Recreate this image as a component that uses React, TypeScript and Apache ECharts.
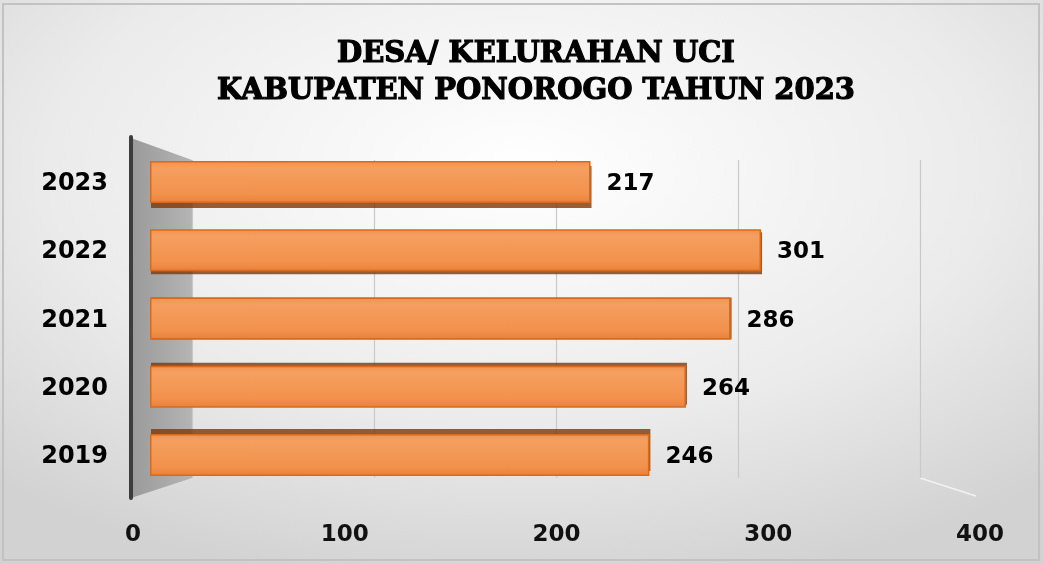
import React, { useEffect, useRef } from "react";
import * as echarts from "echarts";

const years = ["2019", "2020", "2021", "2022", "2023"];
const values = [246, 264, 286, 301, 217];
const depthShift = [-5, -3, 0, 3, 5];
const xTicks = [0, 100, 200, 300, 400];
const titleLines = ["DESA/ KELURAHAN UCI", "KABUPATEN PONOROGO TAHUN 2023"];

export default function App() {
  const ref = useRef<HTMLDivElement>(null);
  useEffect(() => {
    const chart = echarts.init(ref.current!, null, { renderer: "svg" });
    const barData = values.map((v, i) => ({
      value: v,
      itemStyle: {
        shadowColor: "rgba(120,55,15,0.8)",
        shadowBlur: 0,
        shadowOffsetY: depthShift[i],
        shadowOffsetX: 1,
      },
    }));
    chart.setOption({
      animation: false,
      title: {
        text: titleLines.join("\n"),
        left: 531,
        textAlign: "center",
        top: 28,
        textStyle: {
          fontFamily: "DejaVu Serif",
          fontWeight: "bold",
          fontSize: 29,
          lineHeight: 37,
          color: "#000",
          textBorderColor: "#000",
          textBorderWidth: 1.2,
        },
      },
      graphic: [
        {
          type: "rect",
          z: -10,
          silent: true,
          shape: { x: 0, y: 0, width: 1043, height: 564 },
          style: {
            fill: new echarts.graphic.RadialGradient(0.5, 0.3, 0.75, [
              { offset: 0, color: "#ffffff" },
              { offset: 0.6, color: "#ebebeb" },
              { offset: 1, color: "#d2d2d2" },
            ]),
          },
        },
        {
          type: "rect",
          z: -9,
          silent: true,
          shape: { x: 3, y: 4, width: 1036, height: 556 },
          style: { fill: "none", stroke: "#c2c2c2", lineWidth: 2 },
        },
        {
          type: "polygon",
          z: -5,
          silent: true,
          shape: { points: [[131, 138], [192, 160], [192, 478], [131, 498]] },
          style: {
            fill: new echarts.graphic.LinearGradient(0, 0, 1, 0, [
              { offset: 0, color: "#9a9a9a" },
              { offset: 1, color: "#b4b4b4" },
            ]),
          },
        },
        {
          type: "line",
          z: -4,
          silent: true,
          shape: { x1: 131, y1: 137, x2: 131, y2: 498 },
          style: { stroke: "#3d3d3d", lineWidth: 4, lineCap: "round" },
        },
        {
          type: "line",
          z: -4,
          silent: true,
          shape: { x1: 920, y1: 478, x2: 976, y2: 496 },
          style: { stroke: "#f2f2f2", lineWidth: 1.5 },
        },
      ],
      grid: [
        { left: 150, right: 81, top: 148, bottom: 75 },
        { left: 133, right: 63, top: 148, bottom: 75 },
        { left: 192, right: 123, top: 160, bottom: 86 },
      ],
      xAxis: [
        {
          gridIndex: 0,
          type: "value",
          min: 0,
          max: 400,
          interval: 100,
          axisLabel: { show: false },
          axisLine: { show: false },
          axisTick: { show: false },
          splitLine: { show: false },
        },
        {
          gridIndex: 1,
          type: "value",
          min: xTicks[0],
          max: xTicks[xTicks.length - 1],
          interval: 100,
          axisLabel: {
            show: true,
            margin: 32,
            fontFamily: "DejaVu Sans",
            fontWeight: "bold",
            fontSize: 23,
            color: "#111",
          },
          axisLine: { show: false },
          axisTick: { show: false },
          splitLine: { show: false },
        },
        {
          gridIndex: 2,
          type: "value",
          min: 0,
          max: 400,
          interval: 100,
          axisLabel: { show: false },
          axisLine: { show: false },
          axisTick: { show: false },
          splitLine: { show: true, lineStyle: { color: "#c9c9c9", width: 1.2 } },
        },
      ],
      yAxis: [
        {
          gridIndex: 0,
          type: "category",
          data: years,
          axisLabel: {
            margin: 42,
            fontFamily: "DejaVu Sans",
            fontWeight: "bold",
            fontSize: 24,
            color: "#000",
          },
          axisLine: { show: false },
          axisTick: { show: false },
        },
        { gridIndex: 1, type: "category", data: years, show: false },
        { gridIndex: 2, type: "category", data: years, show: false },
      ],
      series: [
        {
          type: "bar",
          xAxisIndex: 0,
          yAxisIndex: 0,
          data: barData,
          barWidth: 42,
          itemStyle: {
            color: new echarts.graphic.LinearGradient(0, 0, 0, 1, [
              { offset: 0, color: "#f09352" },
              { offset: 0.15, color: "#f59f60" },
              { offset: 0.8, color: "#f2914c" },
              { offset: 1, color: "#e7823c" },
            ]),
            borderColor: "#d86a1f",
            borderWidth: 1.5,
          },
          label: {
            show: true,
            position: "right",
            distance: 16,
            fontFamily: "DejaVu Sans",
            fontWeight: "bold",
            fontSize: 23,
            color: "#000",
          },
        },
      ],
    });
    return () => chart.dispose();
  }, []);
  return (
    <div
      ref={ref}
      style={{ position: "fixed", left: 0, top: 0, width: 1043, height: 564 }}
    />
  );
}
